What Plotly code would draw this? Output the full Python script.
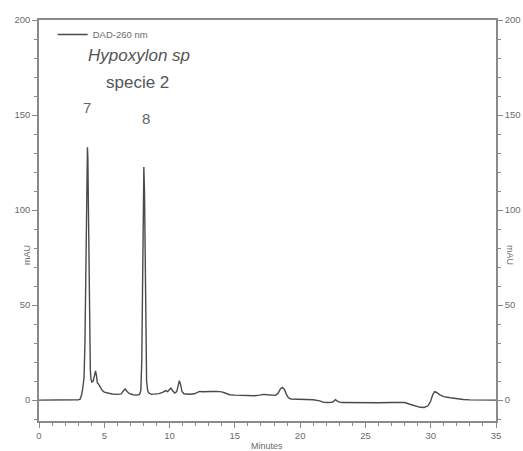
import plotly.graph_objects as go

# Chromatogram (DAD-260 nm), time in minutes, absorbance in mAU
minutes = [0.0, 0.5, 1.0, 1.5, 2.0, 2.5, 3.0, 3.15, 3.25, 3.35, 3.45, 3.52, 3.58, 3.63, 3.68, 3.71,
           3.74, 3.78, 3.83, 3.88, 3.93, 3.98, 4.05, 4.15, 4.25, 4.33, 4.4, 4.47, 4.55, 4.65, 4.75,
           4.85, 5.0, 5.3, 5.6, 6.0, 6.3, 6.5, 6.6, 6.75, 6.9, 7.2, 7.5, 7.7, 7.8, 7.87, 7.93, 7.98,
           8.03, 8.08, 8.13, 8.18, 8.24, 8.32, 8.4, 8.6, 8.9, 9.2, 9.5, 9.7, 9.85, 9.95, 10.1, 10.25,
           10.4, 10.55, 10.65, 10.75, 10.85, 10.95, 11.1, 11.5, 11.9, 12.1, 12.3, 12.5, 12.8, 13.2,
           13.6, 14.0, 14.3, 14.6, 15.0, 15.5, 16.0, 16.5, 16.9, 17.2, 17.5, 17.8, 18.1, 18.3, 18.5,
           18.65, 18.8, 18.95, 19.1, 19.3, 19.6, 20.0, 20.5, 21.0, 21.5, 21.8, 22.2, 22.5, 22.7,
           22.9, 23.2, 24.0, 25.0, 26.0, 27.0, 27.6, 28.0, 28.4, 28.8, 29.2, 29.5, 29.8, 30.0,
           30.15, 30.3, 30.45, 30.7, 31.0, 31.5, 32.0, 32.5, 33.0, 34.0, 35.0]
mau = [0, 0, 0.2, 0, 0.1, 0, 0.2, 0.5, 2.5, 6, 12, 30, 65, 105, 130, 133,
       128, 100, 60, 30, 16, 11, 9.5, 10, 13, 15.4, 13, 9, 8.5, 7.2, 6.5,
       5, 4.2, 3.5, 3.2, 3.0, 3.3, 5.2, 5.8, 4.5, 3.5, 2.8, 2.6, 3.0, 5, 20, 70, 110,
       122.6, 110, 70, 30, 10, 5, 3.8, 3.0, 3.2, 3.4, 4.2, 5.0, 4.5, 5.2, 6.3, 4.8,
       3.7, 4.5, 8, 10.2, 8, 4.5, 3.3, 3.1, 3.3, 3.8, 4.6, 4.4, 4.6, 4.5,
       4.6, 4.3, 3.6, 2.8, 2.6, 2.4, 2.5, 2.3, 2.6, 3.0, 2.8, 2.7, 2.5, 3.5, 6.0,
       6.7, 5.5, 3.0, 1.2, 0.6, 0.5, 0.3, 0.4, 0.2, -0.4, -1.2, -1.3, -1.0, 0.2,
       -0.8, -1.3, -1.4, -1.3, -1.4, -1.3, -1.1, -1.3, -2.2, -3.2, -3.8, -3.9, -3.0, -0.5,
       2.8, 4.4, 4.0, 2.8, 1.8, 1.2, 0.6, 0.3, 0.1, 0.0, 0.0]

x_ticks = [0, 5, 10, 15, 20, 25, 30, 35]
y_ticks = [0, 50, 100, 150, 200]
peak_labels = ["7", "8"]
peak_label_x = [3.67, 8.2]
peak_label_y = [154, 148]

FONT = "Liberation Sans, Arial, sans-serif"
AX = "#8a8a8a"
TXT = "#6a6a6a"

fig = go.Figure()
fig.add_trace(go.Scatter(x=minutes, y=mau, mode="lines", name="DAD-260 nm",
                         line=dict(color="#4a4a4a", width=1.4), showlegend=True))
fig.add_trace(go.Scatter(x=minutes, y=mau, mode="lines", yaxis="y2", showlegend=False,
                         line=dict(width=0), opacity=0, hoverinfo="skip"))

axis_common = dict(showgrid=False, zeroline=False, showline=True, linecolor=AX, linewidth=1.5,
                   ticks="outside", ticklen=5, tickwidth=1, tickcolor=AX, automargin=False,
                   tickfont=dict(family=FONT, size=9.5, color=TXT))

fig.update_layout(
    width=523, height=451,
    margin=dict(l=39, r=27, t=20, b=30),
    plot_bgcolor="white", paper_bgcolor="white",
    xaxis=dict(range=[0, 35], tickvals=x_ticks, mirror=True,
               minor=dict(dtick=1, ticks="outside", ticklen=3, tickcolor=AX),
               **axis_common),
    yaxis=dict(range=[-11, 200], tickvals=y_ticks,
               minor=dict(dtick=10, tick0=0, ticks="outside", ticklen=3, tickcolor=AX),
               **axis_common),
    yaxis2=dict(range=[-11, 200], tickvals=y_ticks, overlaying="y", side="right",
                minor=dict(dtick=10, tick0=0, ticks="outside", ticklen=3, tickcolor=AX),
                **axis_common),
    legend=dict(x=0.03, y=1.0, xanchor="left", yanchor="top", bgcolor="rgba(0,0,0,0)",
                font=dict(family=FONT, size=9.5, color=TXT), itemwidth=30),
    showlegend=True,
)

PW = 457.0
PH = 401.0


def px(xp):
    return (xp - 39) / PW


def py(yp):
    return 1 - (yp - 20) / PH


annos = [
    dict(text="<i>Hypoxylon sp</i>", x=139, y=55, size=17),
    dict(text="specie 2", x=137, y=82, size=17),
]
for a in annos:
    fig.add_annotation(text=a["text"], xref="paper", yref="paper", xanchor="center",
                       yanchor="middle", x=px(a["x"]), y=py(a["y"]),
                       showarrow=False, font=dict(family=FONT, size=a["size"], color="#555555"))

for lab, t, yv in zip(peak_labels, peak_label_x, peak_label_y):
    fig.add_annotation(text=lab, x=t, y=yv, xref="x", yref="y", showarrow=False,
                       xanchor="center", yanchor="middle",
                       font=dict(family=FONT, size=15, color="#666666"))

fig.add_annotation(text="mAU", textangle=-90, xref="paper", yref="paper", xanchor="center",
                   yanchor="middle", x=px(27), y=py(255), showarrow=False,
                   font=dict(family=FONT, size=9, color=TXT))
fig.add_annotation(text="mAU", textangle=90, xref="paper", yref="paper", xanchor="center",
                   yanchor="middle", x=px(510), y=py(255), showarrow=False,
                   font=dict(family=FONT, size=9, color=TXT))
fig.add_annotation(text="Minutes", xref="paper", yref="paper", xanchor="center",
                   yanchor="middle", x=px(267), y=py(446), showarrow=False,
                   font=dict(family=FONT, size=9, color=TXT))

fig.write_html("out.html")
